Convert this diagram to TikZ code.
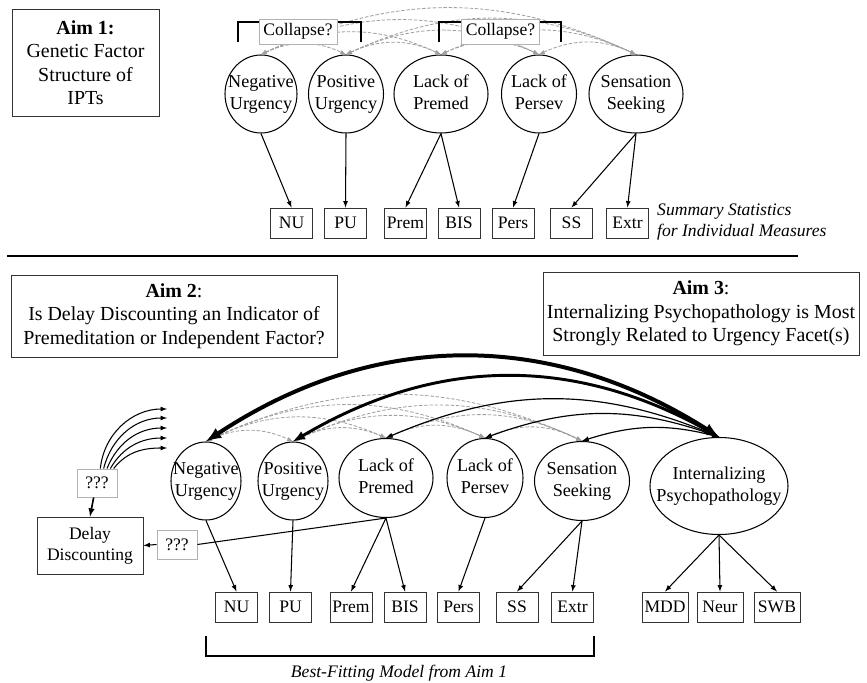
\documentclass[tikz,border=0pt]{standalone}
\usepackage{fontspec}
\setmainfont{Liberation Serif}
\usetikzlibrary{shapes}

\newcommand{\ellab}[1]{\makebox[0pt]{\begin{tabular}{@{}c@{}}#1\end{tabular}}}

\tikzset{
  factor/.style={ellipse, draw, line width=0.9pt, inner sep=0pt, font=\fontsize{15.5}{18.5}\selectfont},
  ind/.style={rectangle, draw=black!80, line width=0.8pt, minimum width=1.26cm, minimum height=0.9cm, inner sep=0pt, font=\fontsize{15}{18}\selectfont},
  aim/.style={rectangle, draw=black!80, line width=0.8pt, align=center, inner sep=0pt, font=\fontsize{17}{20}\selectfont},
  qbox/.style={rectangle, draw=black!30, fill=white, line width=0.8pt, inner sep=0pt, font=\fontsize{15}{18}\selectfont},
  load/.style={-latex, line width=0.9pt},
  cov/.style={latex-latex, gray!75, dash pattern=on 3pt off 1.5pt, line width=0.7pt, bend left=25},
  brace/.style={line width=1.6pt},
}

\begin{document}
\begin{tikzpicture}[x=0.03cm, y=-0.03cm]
\useasboundingbox (0,0) rectangle (867,683);

% Aim 1: factor structure
\node[aim, minimum width=4.41cm, minimum height=3.21cm] (aim1) at (85.5,62.5) {\textbf{Aim 1:}\\Genetic Factor\\Structure of\\IPTs};

\node[factor, minimum width=2.16cm, minimum height=2.34cm] (tNU) at (261,94) {\ellab{Negative\\Urgency}};
\node[factor, minimum width=2.25cm, minimum height=2.34cm] (tPU) at (346,94) {\ellab{Positive\\Urgency}};
\node[factor, minimum width=2.82cm, minimum height=2.34cm] (tPrem) at (441,94) {\ellab{Lack of\\Premed}};
\node[factor, minimum width=2.25cm, minimum height=2.34cm] (tPersev) at (539,94) {\ellab{Lack of\\Persev}};
\node[factor, minimum width=2.82cm, minimum height=2.34cm] (tSS) at (636,94) {\ellab{Sensation\\Seeking}};

\node[ind] (tiNU) at (291.5,223) {NU};
\node[ind] (tiPU) at (345.5,223) {PU};
\node[ind] (tiPrem) at (405.5,223) {Prem};
\node[ind] (tiBIS) at (459,223) {BIS};
\node[ind] (tiPers) at (513,223) {Pers};
\node[ind] (tiSS) at (571.5,223) {SS};
\node[ind] (tiExtr) at (627.5,223) {Extr};
\node[anchor=west, align=left, inner sep=0pt, font=\fontsize{15}{18}\selectfont\itshape] (summ) at (657,222.5) {Summary Statistics\\for Individual Measures};

\draw[load] (tNU.south) -- (tiNU.north);
\draw[load] (tPU.south) -- (tiPU.north);
\draw[load] (tPrem.south) -- (tiPrem.north);
\draw[load] (tPrem.south) -- (tiBIS.north);
\draw[load] (tPersev.south) -- (tiPers.north);
\draw[load] (tSS.south) -- (tiSS.north);
\draw[load] (tSS.south) -- (tiExtr.north);

% covariances among the five facets
\foreach \a/\b in {NU/PU,NU/Prem,NU/Persev,NU/SS,PU/Prem,PU/Persev,PU/SS,Prem/Persev,Prem/SS,Persev/SS}{
  \draw[cov] (t\a.north) to (t\b.north);
}

\draw[brace] (238,42) -- (238,22) -- (361,22) -- (361,42);
\draw[brace] (439,42) -- (439,22) -- (561,22) -- (561,42);
\node[qbox, minimum width=2.34cm, minimum height=0.75cm] (col1) at (298,31.5) {Collapse?};
\node[qbox, minimum width=2.34cm, minimum height=0.75cm] (col2) at (500.5,31.5) {Collapse?};

\draw[line width=1.5pt] (7,256) -- (798,256);

% Aims 2 and 3
\node[aim, minimum width=9.78cm, minimum height=2.46cm] (aim2) at (174,316) {\textbf{Aim 2}:\\Is Delay Discounting an Indicator of\\Premeditation or Independent Factor?};
\node[aim, minimum width=9.48cm, minimum height=2.49cm] (aim3) at (701,313.5) {\textbf{Aim 3}:\\Internalizing Psychopathology is Most\\Strongly Related to Urgency Facet(s)};

\node[factor, minimum width=2.1cm, minimum height=2.34cm] (bNU) at (206,481) {\ellab{Negative\\Urgency}};
\node[factor, minimum width=2.1cm, minimum height=2.34cm] (bPU) at (293,481) {\ellab{Positive\\Urgency}};
\node[factor, minimum width=2.82cm, minimum height=2.37cm] (bPrem) at (386,478) {\ellab{Lack of\\Premed}};
\node[factor, minimum width=2.28cm, minimum height=2.37cm] (bPersev) at (485,478) {\ellab{Lack of\\Persev}};
\node[factor, minimum width=2.85cm, minimum height=2.37cm] (bSS) at (582,481) {\ellab{Sensation\\Seeking}};
\node[factor, minimum width=4.14cm, minimum height=2.91cm] (bIP) at (719,486) {\ellab{Internalizing\\Psychopathology}};

\node[ind] (biNU) at (236.5,607) {NU};
\node[ind] (biPU) at (290.5,607) {PU};
\node[ind] (biPrem) at (351,607) {Prem};
\node[ind] (biBIS) at (405,607) {BIS};
\node[ind] (biPers) at (458.5,607) {Pers};
\node[ind] (biSS) at (517,607) {SS};
\node[ind] (biExtr) at (572.5,607) {Extr};
\node[ind, minimum width=1.38cm] (biMDD) at (665,607) {MDD};
\node[ind, minimum width=1.38cm] (biNeur) at (720,607) {Neur};
\node[ind, minimum width=1.38cm] (biSWB) at (777,607) {SWB};

\draw[load] (bNU.south) -- (biNU.north);
\draw[load] (bPU.south) -- (biPU.north);
\draw[load] (bPrem.south) -- (biPrem.north);
\draw[load] (bPrem.south) -- (biBIS.north);
\draw[load] (bPersev.south) -- (biPers.north);
\draw[load] (bSS.south) -- (biSS.north);
\draw[load] (bSS.south) -- (biExtr.north);
\draw[load] (bIP.south) -- (biMDD.north);
\draw[load] (bIP.south) -- (biNeur.north);
\draw[load] (bIP.south) -- (biSWB.north);

\foreach \a/\b in {NU/PU,NU/Prem,NU/Persev,NU/SS,PU/Prem,PU/Persev,PU/SS,Prem/Persev,Prem/SS,Persev/SS}{
  \draw[cov] (b\a.north) to (b\b.north);
}

% internalizing with urgency and the rest
\draw[latex-latex, line width=3.4pt] (bIP.north) to[bend right=33] (bNU.north);
\draw[latex-latex, line width=2.5pt] (bIP.north) to[bend right=30] (bPU.north);
\draw[latex-latex, line width=1pt] (bIP.north) to[bend right=23] (bPrem.north);
\draw[latex-latex, line width=1pt] (bIP.north) to[bend right=20] (bPersev.north);
\draw[latex-latex, line width=1pt] (bIP.north) to[bend right=16] (bSS.north);

% delay discounting
\node[rectangle, draw=black!80, line width=0.8pt, minimum width=3.18cm, minimum height=1.71cm, align=center, inner sep=0pt, font=\fontsize{15}{18}\selectfont] (dd) at (90,545.5) {Delay\\Discounting};
\node[qbox, minimum width=1.2cm, minimum height=0.84cm] (q1) at (97,483) {???};
\node[qbox, minimum width=1.2cm, minimum height=0.87cm] (q2) at (177,544.5) {???};
\draw[line width=0.9pt] (bPrem.south) -- (q2.east);
\draw[load] (q2.west) -- (dd.east);
\draw[load, line width=1.4pt] ([xshift=-1mm]q1.south) -- (dd.north);
\foreach \i/\y/\o/\s in {0/409/84/1mm,1/418/76/2mm,2/428/68/3mm,3/438/60/4mm,4/448/52/5mm}{
  \coordinate (fan\i) at (167,\y);
  \draw[load] ([xshift=\s]q1.north) to[out=\o, in=180] (fan\i);
}

\draw[brace] (206,636) -- (206,656) -- (594,656) -- (594,636);
\node[font=\fontsize{15}{18}\selectfont\itshape] (bestfit) at (399,673) {Best-Fitting Model from Aim 1};
\end{tikzpicture}
\end{document}
